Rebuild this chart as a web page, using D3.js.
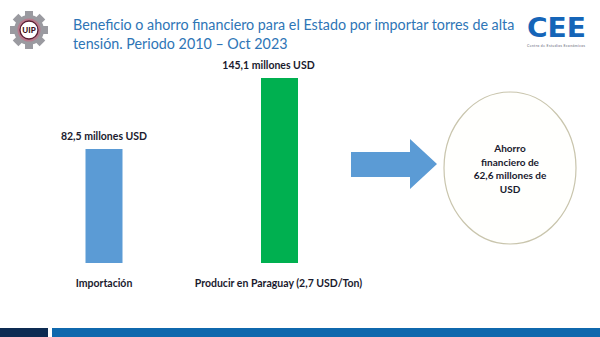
<!DOCTYPE html>
<html><head><meta charset="utf-8">
<script src="https://cdn.jsdelivr.net/npm/d3@7"></script>
<style>html,body{margin:0;padding:0;background:#fff;}svg{display:block;}</style>
</head><body>
<div id="chart"></div>
<script>
const categories = ["Importación", "Producir en Paraguay (2,7 USD/Ton)"];
const values = [82.5, 145.1];
const valueLabels = ["82,5 millones USD", "145,1 millones USD"];
const barColors = ["#5B9BD5", "#00B050"];
const titleLines = ["Beneficio o ahorro financiero para el Estado por importar torres de alta", "tensión. Periodo 2010 – Oct 2023"];
const savingLines = ["Ahorro", "financiero de", "62,6 millones de", "USD"];

const W = 600, H = 337;
const svg = d3.select("#chart").append("svg").attr("width", W).attr("height", H);
const font = "Lato, 'Open Sans', sans-serif";

// Title
svg.append("g").selectAll("text").data(titleLines).join("text")
  .attr("transform", (d, i) => `translate(73,${30 + i * 18.5}) scale(1,1.13)`)
  .attr("font-family", font).attr("font-size", 14.3).attr("fill", "#2E75B6")
  .text(d => d);

// Bars
const barW = 37;
const y = d3.scaleLinear().domain([-18, 145.1]).range([263, 78]);
const x = d3.scalePoint().domain(categories).range([104, 279.5]);
const g = svg.append("g");
g.selectAll("rect").data(values).join("rect")
  .attr("x", (d, i) => x(categories[i]) - barW / 2)
  .attr("y", d => y(d))
  .attr("width", barW)
  .attr("height", d => y(-18) - y(d))
  .attr("fill", (d, i) => barColors[i]);

const labelDx = [0, -11];
g.selectAll("text.val").data(values).join("text").attr("class", "val")
  .attr("x", (d, i) => x(categories[i]) + labelDx[i])
  .attr("y", d => y(d) - 9)
  .attr("text-anchor", "middle")
  .attr("font-family", font).attr("font-weight", "bold").attr("font-size", 10.5).attr("fill", "#1a1a2e")
  .text((d, i) => valueLabels[i]);

g.selectAll("text.cat").data(categories).join("text").attr("class", "cat")
  .attr("x", (d, i) => x(d) - (i ? 1 : 0))
  .attr("y", 287)
  .attr("text-anchor", "middle")
  .attr("font-family", font).attr("font-weight", "bold").attr("font-size", 10.5).attr("fill", "#1a1a2e")
  .text(d => d);

// Arrow
const arrowPts = [[351,152],[410,152],[410,139],[437,164],[410,189],[410,177],[351,177]];
svg.append("path").attr("d", d3.line()(arrowPts) + "Z").attr("fill", "#5B9BD5");

// Ellipse
svg.append("ellipse").attr("cx", 510).attr("cy", 168).attr("rx", 66).attr("ry", 76)
  .attr("fill", "#fffffd").attr("stroke", "#c9c5ad").attr("stroke-width", 1.2);
svg.append("g").selectAll("text").data(savingLines).join("text")
  .attr("x", 510).attr("y", (d, i) => 152 + i * 13.5)
  .attr("text-anchor", "middle")
  .attr("font-family", font).attr("font-weight", "bold").attr("font-size", 10).attr("fill", "#1a1a2e")
  .text(d => d);

// UIP logo
const lg = svg.append("g").attr("transform", "translate(29,30)");
lg.selectAll("rect").data(d3.range(8)).join("rect")
  .attr("x", -4).attr("y", -19).attr("width", 8).attr("height", 8)
  .attr("fill", "#9a9aa0")
  .attr("transform", d => `rotate(${d * 45})`);
lg.append("circle").attr("r", 15).attr("fill", "#9a9aa0");
lg.append("circle").attr("r", 11.5).attr("fill", "#b87a8c");
lg.append("circle").attr("r", 9).attr("fill", "#fff").attr("stroke", "#5a1f33").attr("stroke-width", 1.3);
lg.append("text").attr("y", 3).attr("text-anchor", "middle")
  .attr("font-family", font).attr("font-weight", "900").attr("font-size", 8).attr("fill", "#3a0f20").text("UIP");

// CEE logo
svg.append("text").attr("x", 527).attr("y", 36.5)
  .attr("font-family", "'DejaVu Sans', sans-serif").attr("font-weight", "bold").attr("font-size", 26)
  .attr("fill", "#1565b8").attr("textLength", 59).attr("lengthAdjust", "spacingAndGlyphs").text("CEE");
svg.append("text").attr("x", 527).attr("y", 46.5)
  .attr("font-family", font).attr("font-size", 3.5).attr("fill", "#667")
  .attr("textLength", 58).text("Centro de Estudios Económicos");

// Bottom bars
svg.append("rect").attr("x", 0).attr("y", 328).attr("width", 48).attr("height", 9).attr("fill", "#0d2b52");
svg.append("rect").attr("x", 52).attr("y", 328).attr("width", 548).attr("height", 9).attr("fill", "#0f68ad");
</script>
</body></html>
